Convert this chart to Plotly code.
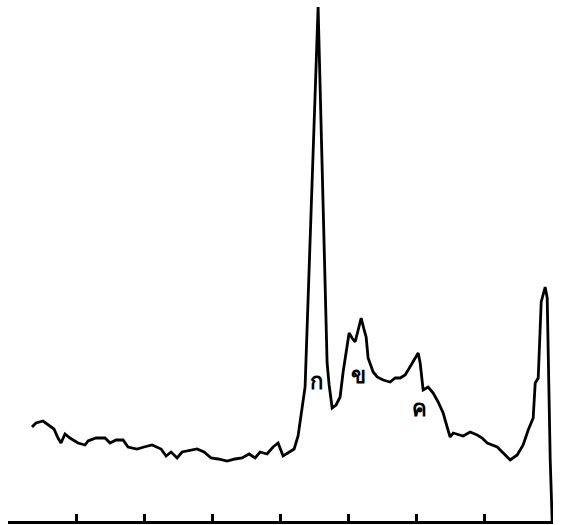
import plotly.graph_objects as go

# retention axis (tick units) and detector response
time = [0.352, 0.411, 0.514, 0.602, 0.675, 0.734, 0.778, 0.837, 0.910, 1.028,
        1.131, 1.175, 1.292, 1.424, 1.498, 1.586, 1.689, 1.762, 1.894, 1.997,
        2.115, 2.247, 2.320, 2.394, 2.482, 2.555, 2.673, 2.775, 2.878, 2.981,
        3.084, 3.216, 3.333, 3.436, 3.539, 3.627, 3.700, 3.803, 3.891, 3.965,
        4.038, 4.126, 4.200, 4.258, 4.302, 4.361, 4.552, 4.684, 4.714, 4.758,
        4.816, 4.875, 4.919, 4.949, 4.978, 5.007, 5.051, 5.095, 5.140, 5.184,
        5.228, 5.257, 5.286, 5.360, 5.419, 5.507, 5.609, 5.683, 5.756, 5.829,
        5.874, 5.947, 6.021, 6.050, 6.094, 6.167, 6.241, 6.314, 6.388, 6.446,
        6.490, 6.535, 6.681, 6.784, 6.887, 6.960, 7.034, 7.181, 7.269, 7.372,
        7.474, 7.562, 7.636, 7.709, 7.739, 7.783, 7.827, 7.885, 7.915, 7.959,
        7.988]
response = [94, 98, 100, 96, 92, 83, 78, 87, 83, 78,
            76, 80, 83, 83, 78, 81, 81, 74, 72, 74,
            76, 72, 65, 69, 63, 69, 71, 72, 69, 63,
            62, 60, 62, 63, 67, 63, 69, 67, 74, 78,
            65, 69, 72, 85, 105, 134, 514, 158, 136, 113,
            116, 124, 149, 164, 178, 188, 183, 179, 191, 203,
            191, 184, 163, 149, 144, 141, 139, 143, 143, 146,
            151, 159, 168, 158, 131, 134, 128, 119, 108, 94,
            84, 88, 85, 89, 86, 83, 78, 74, 68, 61,
            66, 76, 91, 103, 138, 143, 219, 234, 223, 61,
            0]

peak_labels = ["ก", "ข", "ค"]
label_time = [4.523, 5.14, 6.035]
label_resp = [138, 144, 111]

tick_positions = [1, 2, 3, 4, 5, 6, 7]

fig = go.Figure()
fig.add_trace(go.Scatter(x=time, y=response, mode="lines",
                         line=dict(color="black", width=2.8),
                         hoverinfo="skip", showlegend=False))
fig.add_trace(go.Scatter(x=label_time, y=label_resp, mode="text",
                         text=peak_labels,
                         textfont=dict(size=22, color="black", weight="bold",
                                       family="Noto Sans, DejaVu Sans, sans-serif"),
                         showlegend=False, hoverinfo="skip"))

fig.update_layout(
    width=566, height=525,
    margin=dict(l=8, r=13, t=0, b=4),
    paper_bgcolor="white", plot_bgcolor="white",
    xaxis=dict(range=[0, 8.0], showgrid=False, zeroline=False,
               showline=True, linecolor="black", linewidth=2.5,
               ticks="inside", ticklen=7, tickwidth=2.5, tickcolor="black",
               tickvals=tick_positions, showticklabels=False),
    yaxis=dict(range=[0, 521], showgrid=False, zeroline=False,
               showline=False, showticklabels=False, ticks=""),
)

fig.write_html("out.html")
